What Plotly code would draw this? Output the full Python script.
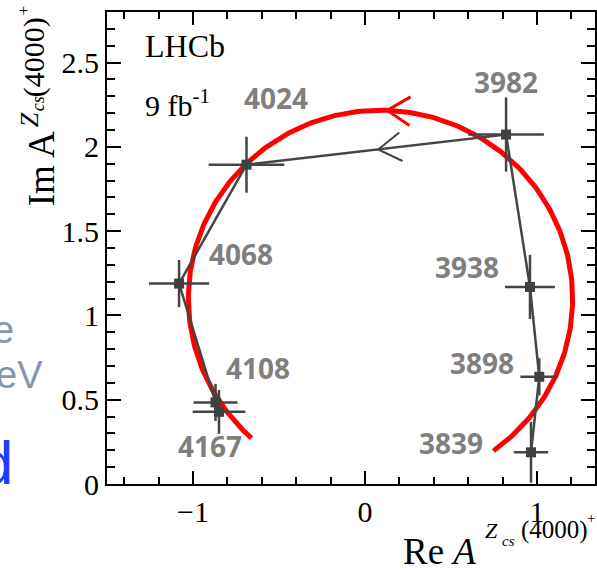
import numpy as np
import plotly.graph_objects as go

# Fitted Z_cs(4000)+ amplitude in mass bins (MeV)
masses = [3839, 3898, 3938, 3982, 4024, 4068, 4108, 4167]
re_vals = [0.965, 1.013, 0.959, 0.820, -0.689, -1.081, -0.869, -0.849]
im_vals = [0.188, 0.636, 1.169, 2.073, 1.894, 1.189, 0.484, 0.428]
re_errs = [0.10, 0.11, 0.145, 0.22, 0.22, 0.175, 0.128, 0.153]
im_errs = [0.18, 0.11, 0.19, 0.22, 0.166, 0.14, 0.11, 0.13]

# Breit-Wigner circle of the fit model: centre, radius, arc start/end (deg)
bw_center = (0.09, 1.10)
bw_radius = 1.117
bw_arc_deg = (-54.0, 227.8)
bw_arrow_deg = 88.0

# label offsets (px) of the mass labels relative to their points
label_offsets = [(-80, -9), (-57, -14), (-63, -20), (0, -53),
                 (29, -67), (62, -30), (42, -34), (-9, 34)]

W, H = 597, 570
ML, MR, MT, MB = 107, 0, 12, 86
X_RANGE = [-1.5, 1.337]
Y_RANGE = [0.0, 2.8]
PW, PH = W - ML - MR, H - MT - MB
SX = PW / (X_RANGE[1] - X_RANGE[0])
SY = PH / (Y_RANGE[1] - Y_RANGE[0])

GRAY = "#454545"
LABEL_GRAY = "#7f7f7f"
SERIF = "Liberation Serif"


def paper(xp, yp):
    return (xp - ML) / PW, (H - MB - yp) / PH


def chevron(tip_x, tip_y, back_x, back_y, length_px=27, half_angle=32):
    """Open arrowhead: two arms from the tip, opening toward (back_x, back_y)."""
    bx, by = back_x * SX, back_y * SY
    n = np.hypot(bx, by)
    bx, by = bx / n, by / n
    xs, ys = [], []
    for s in (1, -1):
        a = np.radians(s * half_angle)
        rx = bx * np.cos(a) - by * np.sin(a)
        ry = bx * np.sin(a) + by * np.cos(a)
        xs.append(tip_x + rx * length_px / SX)
        ys.append(tip_y + ry * length_px / SY)
    return [xs[0], tip_x, xs[1]], [ys[0], tip_y, ys[1]]


fig = go.Figure()

# model circle
th = np.radians(np.linspace(bw_arc_deg[0], bw_arc_deg[1], 300))
cx, cy = bw_center
fig.add_trace(go.Scatter(x=cx + bw_radius * np.cos(th), y=cy + bw_radius * np.sin(th),
                         mode="lines", line=dict(color="#ff0000", width=5),
                         hoverinfo="skip", showlegend=False))
ta = np.radians(bw_arrow_deg)
tip_x, tip_y = cx + bw_radius * np.cos(ta), cy + bw_radius * np.sin(ta)
ax_, ay_ = chevron(tip_x, tip_y, np.sin(ta), -np.cos(ta))
fig.add_trace(go.Scatter(x=ax_, y=ay_, mode="lines",
                         line=dict(color="#ff0000", width=3),
                         hoverinfo="skip", showlegend=False))

# connecting line through the measured points
fig.add_trace(go.Scatter(x=re_vals, y=im_vals, mode="lines",
                         line=dict(color=GRAY, width=2.5),
                         hoverinfo="skip", showlegend=False))
# direction arrow on the 3982 -> 4024 segment
i0, i1 = 3, 4
t = 0.4925
gx = re_vals[i0] + t * (re_vals[i1] - re_vals[i0])
gy = im_vals[i0] + t * (im_vals[i1] - im_vals[i0])
gax, gay = chevron(gx, gy, re_vals[i0] - re_vals[i1], im_vals[i0] - im_vals[i1])
fig.add_trace(go.Scatter(x=gax, y=gay, mode="lines",
                         line=dict(color=GRAY, width=2),
                         hoverinfo="skip", showlegend=False))

# measured points with errors
fig.add_trace(go.Scatter(
    x=re_vals, y=im_vals, mode="markers",
    marker=dict(symbol="square", size=10, color="#404040"),
    error_x=dict(type="data", array=re_errs, color=GRAY, thickness=2.5, width=0),
    error_y=dict(type="data", array=im_errs, color=GRAY, thickness=2.5, width=0),
    text=[str(m) for m in masses], hoverinfo="text", showlegend=False))

annotations = []
for m, xv, yv, (dx, dy) in zip(masses, re_vals, im_vals, label_offsets):
    annotations.append(dict(x=xv, y=yv, xref="x", yref="y", text="<b>%d</b>" % m,
                            showarrow=False, xshift=dx, yshift=-dy,
                            font=dict(family="Open Sans", size=28, color=LABEL_GRAY),
                            xanchor="center", yanchor="middle"))


def ptext(xp, yp, text, size, family=SERIF, color="black", xanchor="center",
          angle=0):
    px_, py_ = paper(xp, yp)
    annotations.append(dict(x=px_, y=py_, xref="paper", yref="paper", text=text,
                            showarrow=False, xanchor=xanchor, yanchor="middle",
                            textangle=angle,
                            font=dict(family=family, size=size, color=color)))


# experiment tag
ptext(143, 46, "LHCb", 32, xanchor="left")
ptext(143, 103, "9 fb<sup>-1</sup>", 30, xanchor="left")

# x-axis title: Re A^{Z_cs(4000)+}
ptext(441, 551, "Re <i>A</i>", 37)
ptext(493, 530, "<i>Z</i>", 22)
ptext(510, 541, "<i>cs</i>", 15)
ptext(556, 530, "(4000)", 25)
ptext(593, 518, "+", 15)

# y-axis title: Im A^{Z_cs(4000)+}, rotated
ptext(41, 169, "Im A", 37, angle=-90)
ptext(30, 120, "<i>Z</i>", 26, angle=-90)
ptext(38, 104, "<i>cs</i>", 18, angle=-90)
ptext(34, 57, "(4000)", 30, angle=-90)
ptext(23, 10, "+", 17, angle=-90)

# neighbouring slide text, clipped by the left edge
ptext(-9, 330, "e", 38, family="Liberation Sans", color="#8597b0", xanchor="left")
ptext(-6, 375, "eV", 38, family="Liberation Sans", color="#8597b0", xanchor="left")
ptext(-24, 462, "d", 62, family="Liberation Sans", color="#1f3cff", xanchor="left")

axis_common = dict(showline=True, linewidth=2, linecolor="black", mirror="ticks",
                   ticks="inside", tickwidth=2, tickcolor="black",
                   showgrid=False, zeroline=False,
                   tickfont=dict(family=SERIF, size=30, color="black"))

fig.update_layout(
    width=W, height=H,
    margin=dict(l=ML, r=MR, t=MT, b=MB),
    paper_bgcolor="white", plot_bgcolor="white",
    xaxis=dict(range=X_RANGE, tickvals=[-1, 0, 1], ticktext=["\u22121", "0", "1"],
               ticklen=13, minor=dict(dtick=0.2, tick0=0, ticklen=7, tickwidth=2,
                                      tickcolor="black", ticks="inside"),
               **axis_common),
    yaxis=dict(range=Y_RANGE, tickvals=[0, 0.5, 1, 1.5, 2, 2.5],
               ticktext=["0", "0.5", "1", "1.5", "2", "2.5"],
               ticklen=14, minor=dict(dtick=0.1, tick0=0, ticklen=8, tickwidth=2,
                                      tickcolor="black", ticks="inside"),
               **axis_common),
    annotations=annotations,
)

fig.write_html("out.html")
